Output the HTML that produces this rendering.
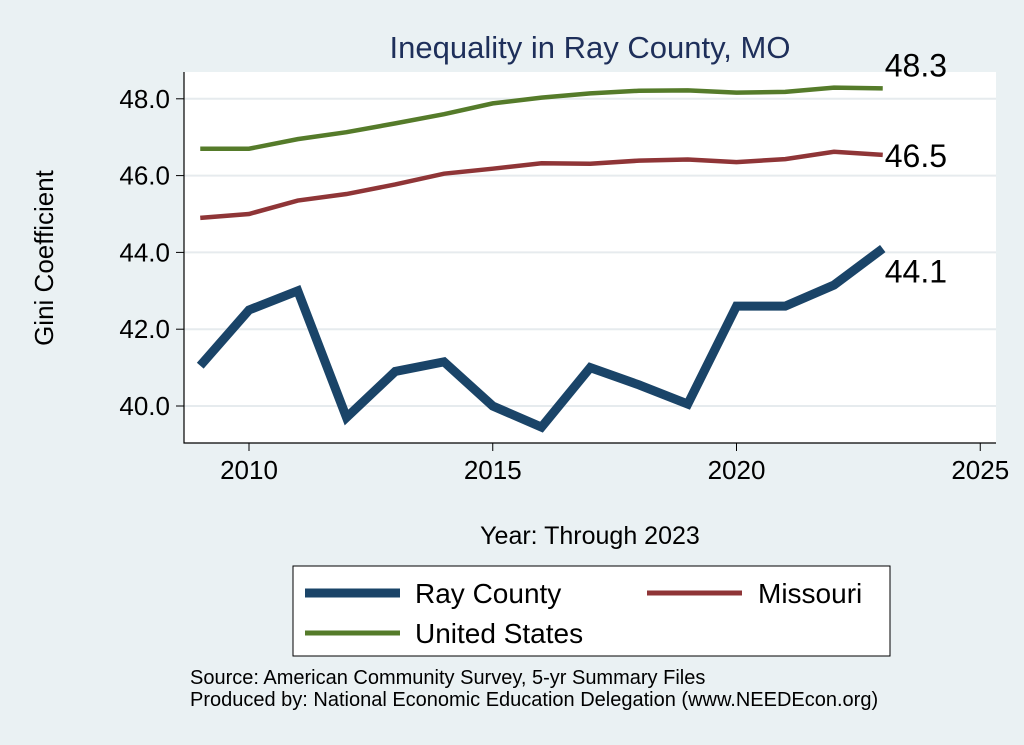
<!DOCTYPE html>
<html><head><meta charset="utf-8"><style>
body{margin:0;background:#eaf1f3;}
svg{display:block;font-family:"Liberation Sans",Arial,sans-serif;}
</style></head><body>
<svg id="chart" width="1024" height="745">
<rect x="0" y="0" width="1024" height="745" fill="#eaf1f3"/>
<rect x="184" y="72" width="812" height="371" fill="#ffffff"/>
<text x="590" y="58" text-anchor="middle" font-size="31" fill="#1e2f5a">Inequality in Ray County, MO</text>
<g id="grid"></g><g id="axes"></g><g id="series"></g><g id="labels"></g>
<text x="590" y="544" text-anchor="middle" font-size="25" fill="#000">Year: Through 2023</text>
<text transform="translate(53,258) rotate(-90)" text-anchor="middle" font-size="26" fill="#000">Gini Coefficient</text>
<g>
<rect x="293" y="566" width="597" height="90" fill="#fff" stroke="#000" stroke-width="1"/>
<line x1="305" y1="593" x2="400" y2="593" stroke="#1a4468" stroke-width="9"/>
<text x="415" y="603" font-size="28">Ray County</text>
<line x1="647" y1="593" x2="742" y2="593" stroke="#8f3537" stroke-width="5"/>
<text x="758" y="603" font-size="28">Missouri</text>
<line x1="305" y1="633" x2="400" y2="633" stroke="#557b2a" stroke-width="5"/>
<text x="415" y="643" font-size="28">United States</text>
</g>
<text x="190" y="684" font-size="20">Source: American Community Survey, 5-yr Summary Files</text>
<text x="190" y="706" font-size="20">Produced by: National Economic Education Delegation (www.NEEDEcon.org)</text>
</svg>
<script>
const years=[2009,2010,2011,2012,2013,2014,2015,2016,2017,2018,2019,2020,2021,2022,2023];
const rayCounty=[41.05,42.5,43.0,39.7,40.9,41.15,40.0,39.45,41.0,40.55,40.05,42.6,42.6,43.15,44.1];
const missouri=[44.9,45.0,45.35,45.52,45.77,46.05,46.18,46.32,46.31,46.39,46.42,46.35,46.43,46.62,46.54];
const unitedStates=[46.7,46.7,46.95,47.13,47.36,47.6,47.88,48.03,48.14,48.21,48.22,48.16,48.18,48.29,48.27];
const xTicks=[2010,2015,2020,2025];
const yTicks=[40,42,44,46,48];
const NS="http://www.w3.org/2000/svg";
const xs=v=>249+(v-2010)*48.75;
const ys=v=>406-(v-40)*38.4;
function mk(tag,attrs,parent,text){const e=document.createElementNS(NS,tag);for(const k in attrs)e.setAttribute(k,attrs[k]);if(text!==undefined)e.textContent=text;document.getElementById(parent).appendChild(e);return e;}
yTicks.forEach(t=>{
 const g=mk('line',{x1:184,x2:996,y1:ys(t),y2:ys(t),stroke:'#e6ebee','stroke-width':2},'grid');
 
 
 const tk=mk('line',{x1:176,x2:184,y1:ys(t),y2:ys(t),stroke:'#000'},'axes');
 
 
 const l=mk('text',{x:170,y:ys(t)+9,'text-anchor':'end','font-size':26},'axes',t.toFixed(1));
 
 
});
xTicks.forEach(t=>{
 const tk=mk('line',{x1:xs(t),x2:xs(t),y1:443,y2:451,stroke:'#000'},'axes');
 
 
 const l=mk('text',{x:xs(t),y:479,'text-anchor':'middle','font-size':26},'axes',String(t));
 
 
});
const ax=mk('path',{d:'M184 72 V443 H996',fill:'none',stroke:'#000','stroke-width':1.2},'axes');


function series(vals,color,w,name){
 const p=mk('polyline',{points:vals.map((v,i)=>xs(years[i])+','+ys(v)).join(' '),fill:'none',stroke:color,'stroke-width':w,'stroke-linejoin':'miter'},'series');
 
 
}
series(unitedStates,'#557b2a',4.5,'line-united-states');
series(missouri,'#8f3537',4.5,'line-missouri');
series(rayCounty,'#1a4468',9,'line-ray-county');
const last=years.length-1;
const l1=mk('text',{x:xs(years[last])+2,y:ys(unitedStates[last])-12,'font-size':32},'labels',unitedStates[last].toFixed(1));


const l2=mk('text',{x:xs(years[last])+2,y:ys(missouri[last])+12,'font-size':32},'labels',missouri[last].toFixed(1));


const l3=mk('text',{x:xs(years[last])+2,y:ys(rayCounty[last])+34,'font-size':32},'labels',rayCounty[last].toFixed(1));


</script>
</body></html>
